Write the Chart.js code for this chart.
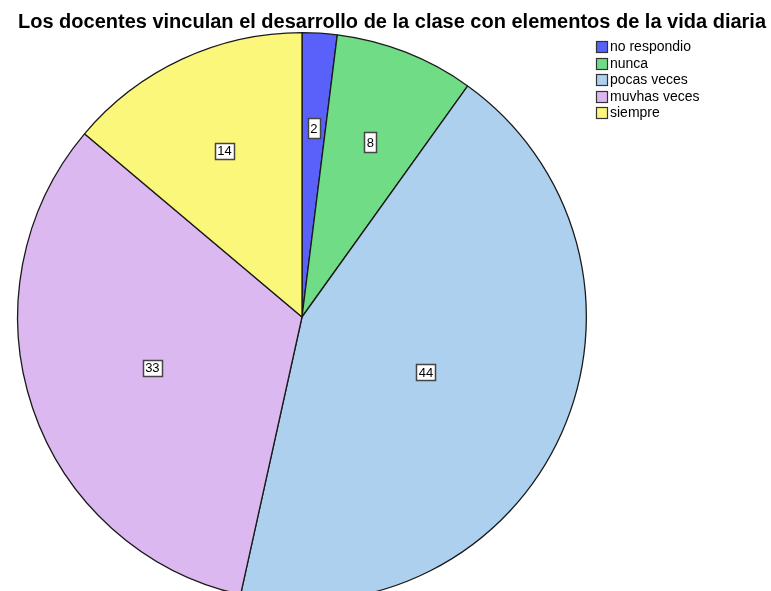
<!DOCTYPE html>
<html>
<head>
<meta charset="utf-8">
<script src="https://cdn.jsdelivr.net/npm/chart.js@4"></script>
<style>
  html, body { margin: 0; padding: 0; background: #fff; overflow: hidden; }
  #wrap { width: 771px; height: 620px; }
</style>
</head>
<body>
<div id="wrap"><canvas id="grafico"></canvas></div>
<script>
const categorias = ['no respondio', 'nunca', 'pocas veces', 'muvhas veces', 'siempre'];
const valores = [2, 8, 44, 33, 14];
const colores = ['#5a61fb', '#70dc85', '#acd0ee', '#dcb8f1', '#faf77b'];
const titulo = 'Los docentes vinculan el desarrollo de la clase con elementos de la vida diaria';

// etiquetas en el centroide de cada sector + titulo + leyenda
const extras = {
    id: 'extras',
    afterDatasetsDraw(chart) {
        const c = chart.ctx;
        const arcs = chart.getDatasetMeta(0).data;
        c.save();
        c.font = '13px Arial, "Liberation Sans"';
        c.textAlign = 'center';
        c.textBaseline = 'middle';
        arcs.forEach((a, i) => {
            const half = (a.endAngle - a.startAngle) / 2;
            const mid = a.startAngle + half;
            const d = 2 * a.outerRadius * Math.sin(half) / (3 * half);
            const x = a.x + Math.cos(mid) * d;
            const y = a.y + Math.sin(mid) * d;
            const txt = String(chart.data.datasets[0].data[i]);
            const w = Math.round(c.measureText(txt).width + 5);
            const h = txt.length === 1 ? 20 : 16;
            const bx = Math.round(x - w / 2) + 0.5, by = Math.round(y - h / 2) + 0.5;
            c.fillStyle = '#fff';
            c.fillRect(bx, by, w, h);
            c.strokeStyle = '#444';
            c.lineWidth = 1.5;
            c.strokeRect(bx, by, w, h);
            c.fillStyle = '#000';
            c.fillText(txt, x, y + 1);
        });

        c.font = 'bold 20px Arial, "Liberation Sans"';
        c.textAlign = 'center';
        c.fillText(titulo, 392, 22);

        c.font = '14px Arial, "Liberation Sans"';
        c.textAlign = 'left';
        c.lineWidth = 1.2;
        categorias.forEach((lab, i) => {
            const y = Math.round(41 + i * 16.5);
            c.fillStyle = colores[i];
            c.fillRect(596.5, y + 0.5, 11, 11);
            c.strokeStyle = '#333';
            c.strokeRect(596.5, y + 0.5, 11, 11);
            c.fillStyle = '#000';
            c.fillText(lab, 610, y + 6);
        });
        c.restore();
    }
};

new Chart(document.getElementById('grafico'), {
    type: 'pie',
    data: {
        labels: categorias,
        datasets: [{
            data: valores,
            backgroundColor: colores,
            borderColor: '#1a1a1a',
            borderWidth: 1.3
        }]
    },
    options: {
        responsive: true,
        maintainAspectRatio: false,
        animation: false,
        layout: { padding: { left: 17, right: 184, top: 32, bottom: 18 } },
        plugins: {
            legend: { display: false },
            tooltip: { enabled: false }
        }
    },
    plugins: [extras]
});
</script>
</body>
</html>
